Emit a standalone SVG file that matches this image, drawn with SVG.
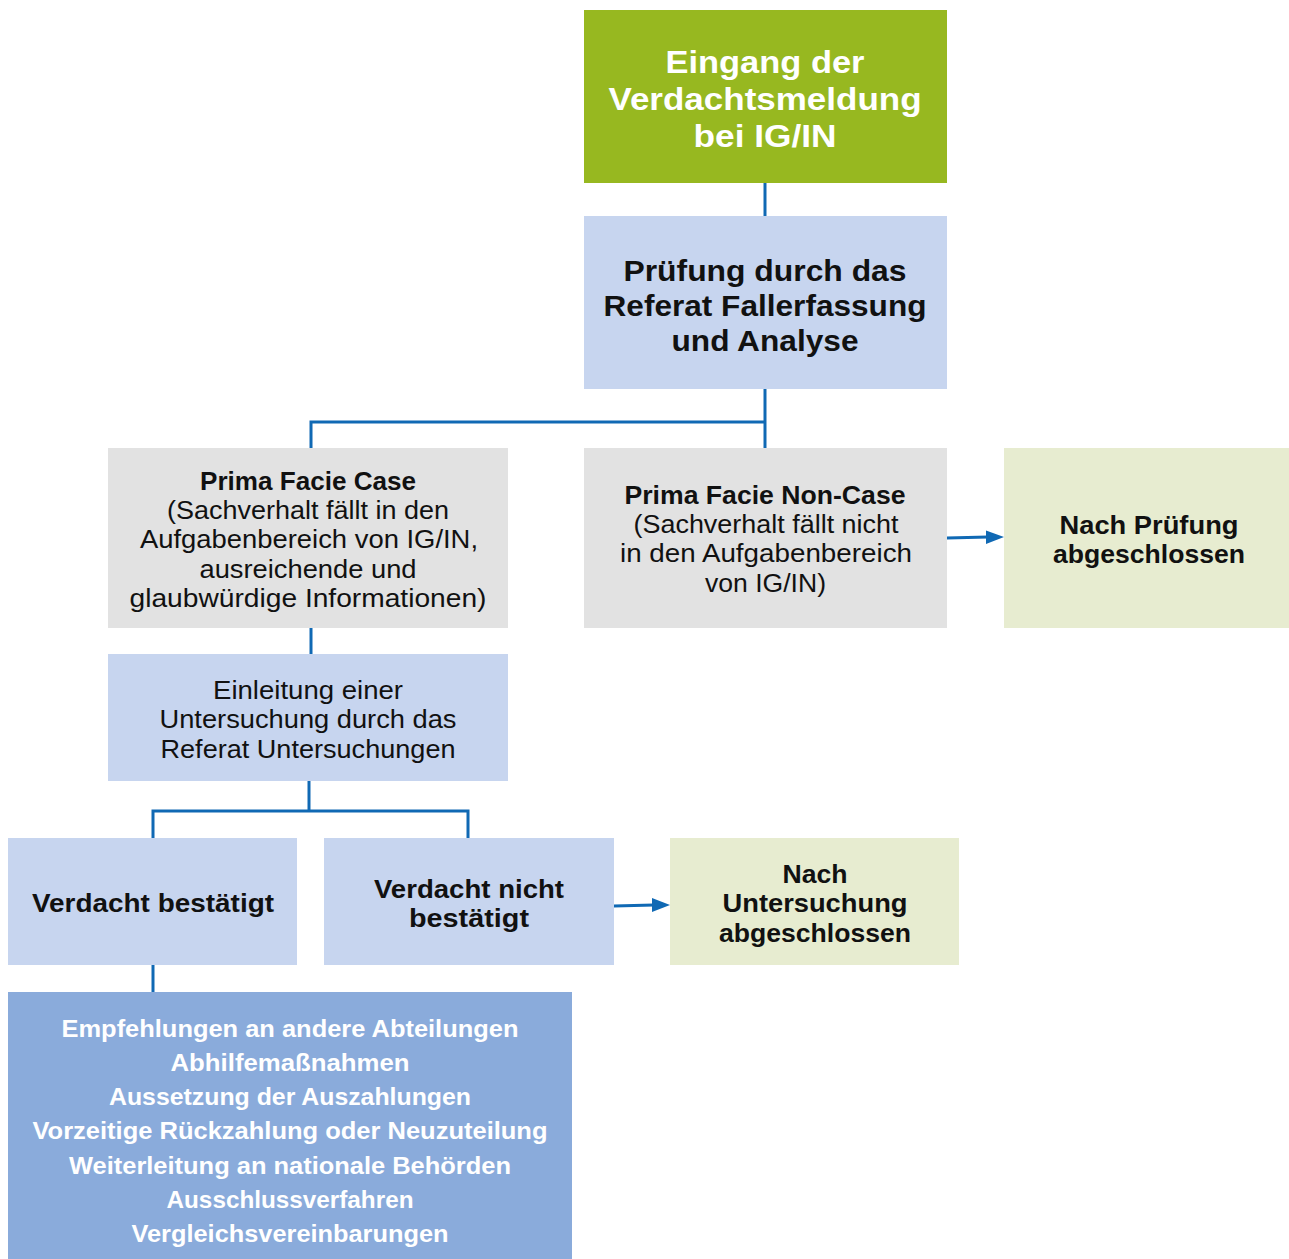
<svg xmlns="http://www.w3.org/2000/svg" width="1289" height="1259" viewBox="0 0 1289 1259">
<defs>
<style>
text{font-family:"Liberation Sans",Arial,sans-serif;text-anchor:middle}
.b{font-weight:700}
.w{fill:#ffffff}
.k{fill:#111111}
.t1{font-size:32px}
.t2{font-size:30px}
.r{font-size:25px}
.m{font-size:25px}
.s{font-size:24px}
.con{fill:none;stroke:#1069b4;stroke-width:3}
.ah{fill:#1069b4}
</style>
</defs>
<rect width="1289" height="1259" fill="#ffffff"/>
<g id="connectors">
<path class="con" d="M765,183 V216"/>
<path class="con" d="M765,389 V448"/>
<path class="con" d="M765,422 H311 V448"/>
<path class="con" d="M311,628 V654"/>
<path class="con" d="M309,781 V811"/>
<path class="con" d="M153,838 V811 H468 V838"/>
<path class="con" d="M153,965 V992"/>
<path class="con" d="M947,538 L988,537"/>
<path class="ah" d="M986,530.5 L1004,537 L986,544 Z"/>
<path class="con" d="M614,906 L654,905"/>
<path class="ah" d="M652,898 L670,905 L652,912 Z"/>
</g>
<g id="n1">
<rect x="584" y="10" width="363" height="173" fill="#97b820"/>
<text class="b w t1" x="765" y="73" textLength="199" lengthAdjust="spacingAndGlyphs">Eingang der</text>
<text class="b w t1" x="765" y="110" textLength="313" lengthAdjust="spacingAndGlyphs">Verdachtsmeldung</text>
<text class="b w t1" x="765" y="147" textLength="143" lengthAdjust="spacingAndGlyphs">bei IG/IN</text>
</g>
<g id="n2">
<rect x="584" y="216" width="363" height="173" fill="#c7d5ef"/>
<text class="b k t2" x="765" y="281" textLength="283" lengthAdjust="spacingAndGlyphs">Prüfung durch das</text>
<text class="b k t2" x="765" y="316" textLength="323" lengthAdjust="spacingAndGlyphs">Referat Fallerfassung</text>
<text class="b k t2" x="765" y="351" textLength="187" lengthAdjust="spacingAndGlyphs">und Analyse</text>
</g>
<g id="n3">
<rect x="108" y="448" width="400" height="180" fill="#e2e2e2"/>
<text class="b k m" x="308" y="490" textLength="216" lengthAdjust="spacingAndGlyphs">Prima Facie Case</text>
<text class="k r" x="308" y="519" textLength="282" lengthAdjust="spacingAndGlyphs">(Sachverhalt fällt in den</text>
<text class="k r" x="309" y="548" textLength="338" lengthAdjust="spacingAndGlyphs">Aufgabenbereich von IG/IN,</text>
<text class="k r" x="308" y="578" textLength="217" lengthAdjust="spacingAndGlyphs">ausreichende und</text>
<text class="k r" x="308" y="607" textLength="357" lengthAdjust="spacingAndGlyphs">glaubwürdige Informationen)</text>
</g>
<g id="n4">
<rect x="584" y="448" width="363" height="180" fill="#e2e2e2"/>
<text class="b k m" x="765" y="504" textLength="281" lengthAdjust="spacingAndGlyphs">Prima Facie Non-Case</text>
<text class="k r" x="766" y="533" textLength="265" lengthAdjust="spacingAndGlyphs">(Sachverhalt fällt nicht</text>
<text class="k r" x="766" y="562" textLength="292" lengthAdjust="spacingAndGlyphs">in den Aufgabenbereich</text>
<text class="k r" x="765.5" y="592" textLength="121" lengthAdjust="spacingAndGlyphs">von IG/IN)</text>
</g>
<g id="n5">
<rect x="1004" y="448" width="285" height="180" fill="#e7ecd0"/>
<text class="b k m" x="1149" y="534" textLength="179" lengthAdjust="spacingAndGlyphs">Nach Prüfung</text>
<text class="b k m" x="1149" y="563" textLength="192" lengthAdjust="spacingAndGlyphs">abgeschlossen</text>
</g>
<g id="n6">
<rect x="108" y="654" width="400" height="127" fill="#c7d5ef"/>
<text class="k r" x="308" y="699" textLength="190" lengthAdjust="spacingAndGlyphs">Einleitung einer</text>
<text class="k r" x="308" y="728" textLength="297" lengthAdjust="spacingAndGlyphs">Untersuchung durch das</text>
<text class="k r" x="308" y="758" textLength="295" lengthAdjust="spacingAndGlyphs">Referat Untersuchungen</text>
</g>
<g id="n7">
<rect x="8" y="838" width="289" height="127" fill="#c7d5ef"/>
<text class="b k m" x="153" y="912" textLength="242" lengthAdjust="spacingAndGlyphs">Verdacht bestätigt</text>
</g>
<g id="n8">
<rect x="324" y="838" width="290" height="127" fill="#c7d5ef"/>
<text class="b k m" x="469" y="898" textLength="190" lengthAdjust="spacingAndGlyphs">Verdacht nicht</text>
<text class="b k m" x="469" y="927" textLength="120" lengthAdjust="spacingAndGlyphs">bestätigt</text>
</g>
<g id="n9">
<rect x="670" y="838" width="289" height="127" fill="#e7ecd0"/>
<text class="b k m" x="815" y="883" textLength="65" lengthAdjust="spacingAndGlyphs">Nach</text>
<text class="b k m" x="815" y="912" textLength="185" lengthAdjust="spacingAndGlyphs">Untersuchung</text>
<text class="b k m" x="815" y="942" textLength="192" lengthAdjust="spacingAndGlyphs">abgeschlossen</text>
</g>
<g id="n10">
<rect x="8" y="992" width="564" height="267" fill="#8aabdb"/>
<text class="b w s" x="290" y="1037" textLength="457" lengthAdjust="spacingAndGlyphs">Empfehlungen an andere Abteilungen</text>
<text class="b w s" x="290" y="1071" textLength="239" lengthAdjust="spacingAndGlyphs">Abhilfemaßnahmen</text>
<text class="b w s" x="290" y="1105" textLength="362" lengthAdjust="spacingAndGlyphs">Aussetzung der Auszahlungen</text>
<text class="b w s" x="290" y="1139" textLength="515" lengthAdjust="spacingAndGlyphs">Vorzeitige Rückzahlung oder Neuzuteilung</text>
<text class="b w s" x="290" y="1174" textLength="442" lengthAdjust="spacingAndGlyphs">Weiterleitung an nationale Behörden</text>
<text class="b w s" x="290" y="1208" textLength="247" lengthAdjust="spacingAndGlyphs">Ausschlussverfahren</text>
<text class="b w s" x="290" y="1242" textLength="317" lengthAdjust="spacingAndGlyphs">Vergleichsvereinbarungen</text>
</g>
</svg>
